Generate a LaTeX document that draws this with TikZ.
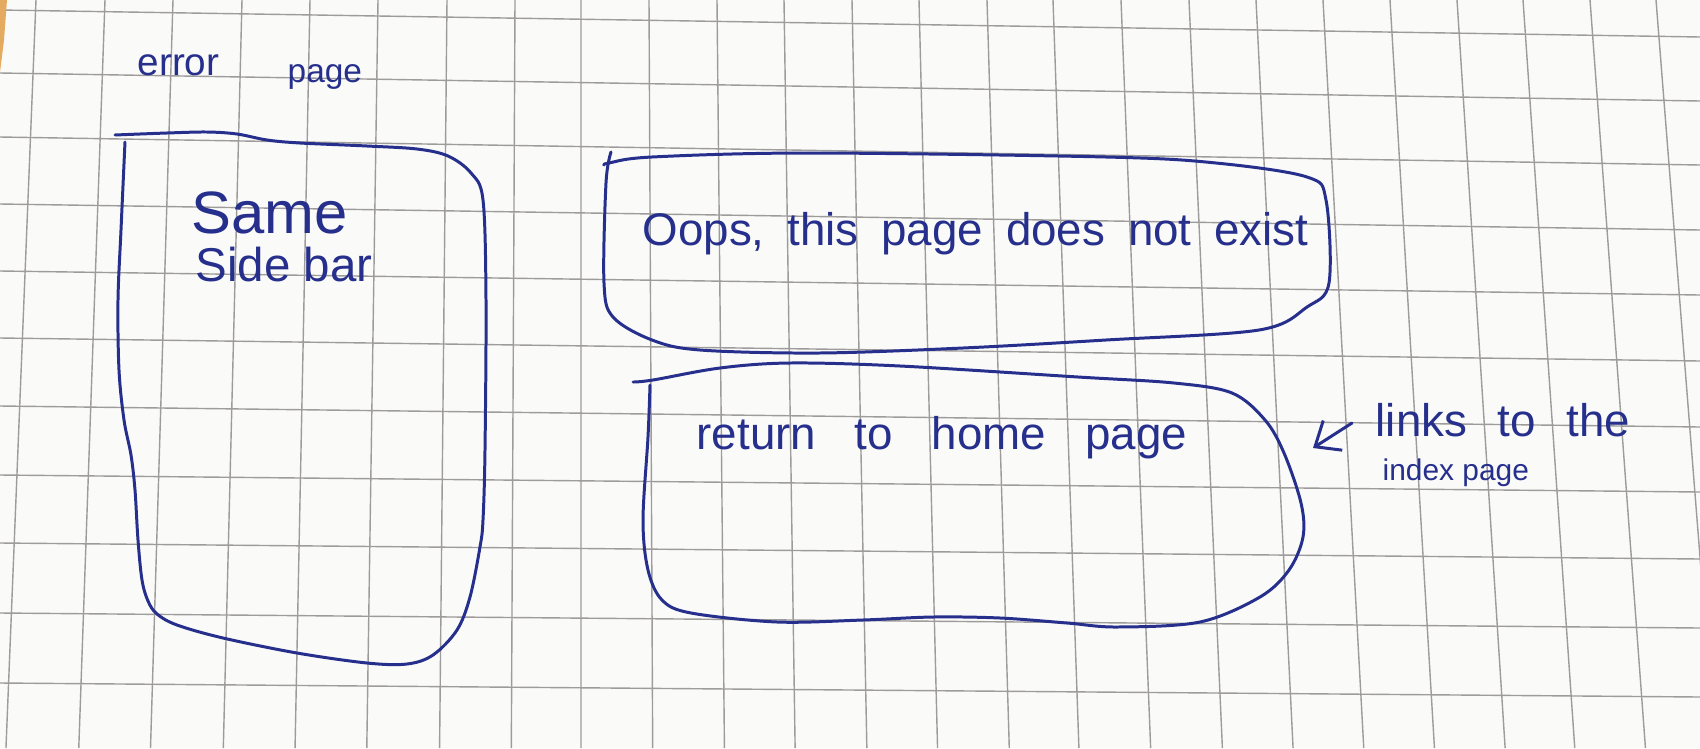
\documentclass[tikz,border=0pt]{standalone}
\usepackage{fontspec}
\setmainfont{Liberation Sans}
\usetikzlibrary{arrows.meta}
\definecolor{ink}{RGB}{38,48,140}
\definecolor{paper}{RGB}{250,250,249}
\definecolor{gridc}{RGB}{158,155,155}
\definecolor{desk}{RGB}{228,170,95}
\begin{document}
\begin{tikzpicture}[x=0.01cm,y=-0.01cm,
  gridline/.style={draw=gridc,line width=0.4pt},
  pen/.style={draw=ink,line width=0.85pt,line cap=round,line join=round},
  hand/.style={text=ink,inner sep=0pt,anchor=base west}]
\fill[paper] (0,0) rectangle (1700,748);
\useasboundingbox (0,0) rectangle (1700,748);
% grid paper (slight perspective)
\foreach \t in {36,105,173,242,310,378,447,515,581,649,717,784,852,919,987,1053,1121,1189,1256,1323,1390,1457,1523,1590,1656}
  \draw[gridline] (\t,0) -- ({1.055*\t-32},748);
\foreach \a/\b in {10/37,73/101,137/165,204/230,271/295,338/361,406/427,475/492,543/559,613/628,683/697}
  \draw[gridline] (0,\a) -- (1700,\b);
\fill[desk] (0,0) -- (7,0) -- (4,40) -- (0,72) -- cycle;
% left box (sidebar)
\draw[pen] plot[smooth,tension=0.55] coordinates {(115,135) (167,133) (207,132) (237,134) (267,140) (300,143) (367,146) (417,149) (448,156) (471,173) (483,200) (486,300) (485,450) (483,520) (480,547) (470,597) (457,630) (433,655) (407,664) (367,663) (297,653) (223,638) (177,625) (157,614) (148,601) (142,580) (138,540) (135,490) (131,455) (124,420) (119,370) (118,300) (121,230) (125,142)};
% top right box
\draw[pen] plot[smooth,tension=0.55] coordinates {(611,152) (606,183) (604,283) (613,317) (652,340) (700,350) (819,353) (963,348) (1106,340) (1259,330) (1307,307) (1329,283) (1326,200) (1307,177) (1216,163) (1106,157) (810,153) (652,157) (609,163) (604,165)};
% bottom right box
\draw[pen] plot[smooth,tension=0.55] coordinates {(633,382) (653,380) (720,368) (790,363) (900,366) (1078,377) (1174,383) (1232,393) (1265,420) (1284,453) (1301,503) (1303,537) (1289,570) (1260,597) (1200,622) (1117,627) (1067,623) (1000,618) (933,617) (863,620) (777,622) (691,613) (662,600) (648,570) (643,520) (648,437) (650,385)};
% texts
\node[hand,font=\fontsize{11}{13}\selectfont] (err) at (137,75) {error};
\node[hand,font=\fontsize{9.5}{11}\selectfont] (pg) at (287,82) {page};
\node[hand,font=\fontsize{17}{20}\selectfont] (same) at (191,233) {Same};
\node[hand,font=\fontsize{13.5}{16}\selectfont] (sidebar) at (195,281) {Side bar};
\node[hand,font=\fontsize{13}{16}\selectfont] (oops) at (642,245) {\spaceskip=0.5em Oops, this page does not exist};
\node[hand,font=\fontsize{13}{16}\selectfont] (ret) at (696,449) {\spaceskip=0.85em return to home page};
\node[hand,font=\fontsize{13}{16}\selectfont] (links) at (1375,436) {\spaceskip=0.67em links to the};
\node[hand,font=\fontsize{8.5}{10}\selectfont] (index) at (1382,480) {index page};
% arrow
\coordinate (aS) at (1352,423);
\coordinate (aE) at (1313,448);
\draw[pen,-{Straight Barb[length=6pt,width=10pt]}] (aS) -- (aE);
\end{tikzpicture}
\end{document}
